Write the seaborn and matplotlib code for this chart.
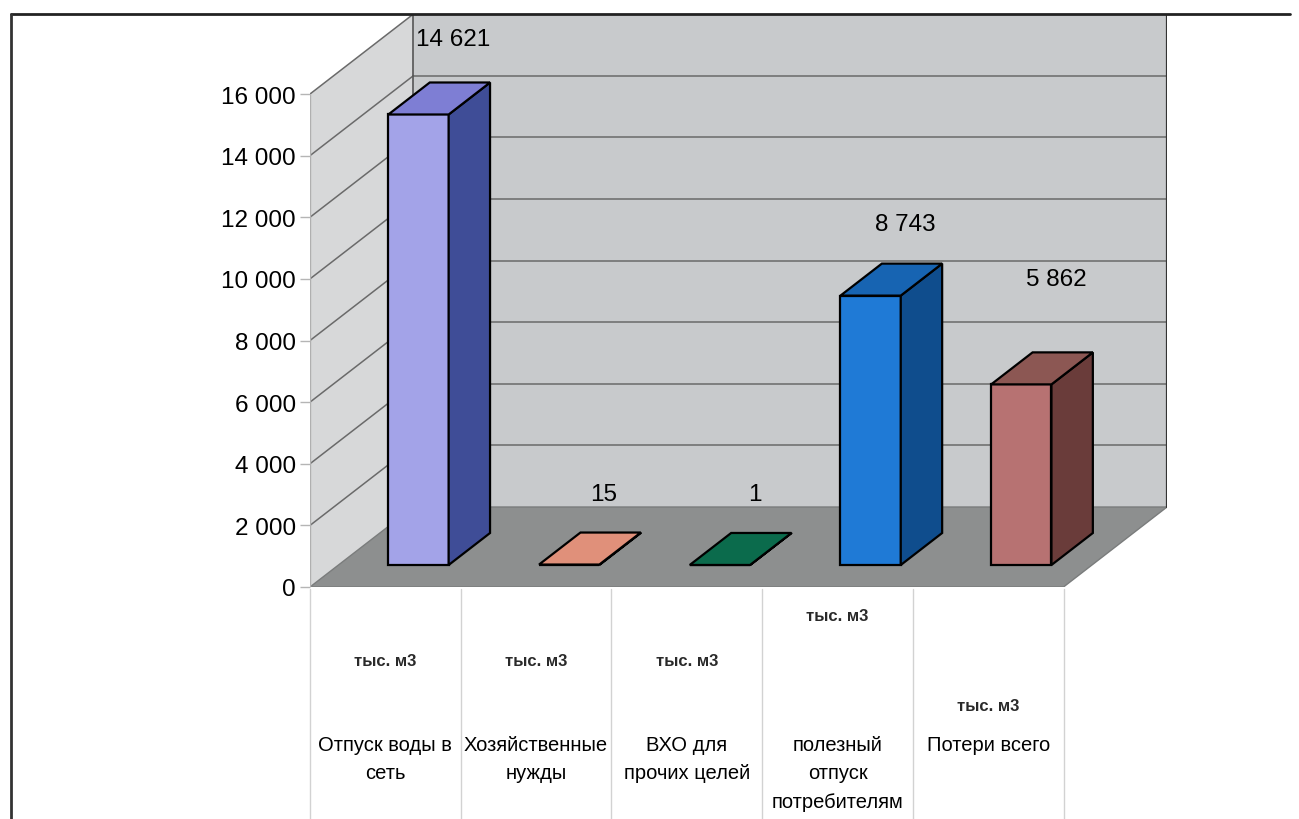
import matplotlib
matplotlib.use("Agg")
import matplotlib.pyplot as plt
import seaborn as sns
import pandas as pd
from matplotlib.patches import Polygon
from matplotlib.lines import Line2D
from matplotlib.transforms import blended_transform_factory

# Data
categories = ["Отпуск воды в\nсеть", "Хозяйственные\nнужды", "ВХО для\nпрочих целей",
              "полезный\nотпуск\nпотребителям", "Потери всего"]
units = ["тыс. м3", "тыс. м3", "тыс. м3", "тыс. м3", "тыс. м3"]
values = [14621, 15, 1, 8743, 5862]
y_ticks = [0, 2000, 4000, 6000, 8000, 10000, 12000, 14000, 16000]

# Colours of the three visible faces of each bar
front_colors = ["#a3a3e8", "#e0907a", "#0b6b4c", "#1f7ad6", "#b77272"]
top_colors = ["#7e7ed4", "#e0907a", "#0b6b4c", "#1764b2", "#8c5753"]
side_colors = ["#3f4d97", "#c07060", "#07553c", "#0f4d8d", "#6a3c3a"]

# Layout (pixels of the 1299x820 canvas)
W, H = 1299, 820
label_lift = [3160, 3000, 3020, 3040, 4130]
unit_rows_px = [662, 662, 662, 617, 707]
names_top_px = 736

sns.set_theme(style="white")
plt.rcParams["font.family"] = ["Liberation Sans", "DejaVu Sans"]
plt.rcParams["text.color"] = "black"
plt.rcParams["ytick.labelcolor"] = "black"

fig = plt.figure(figsize=(W / 100, H / 100), dpi=100)
fig.patch.set_facecolor("white")
ax = fig.add_axes([310 / W, 1 - 588 / H, (1167 - 310) / W, (588 - 15) / H])
ax.set_facecolor("none")

# depth of the 3D box, in category units and value units
depth_x = 103 / 150
depth_y = 16000 * 80 / 493
y_top = 16000 + depth_y

# front faces via seaborn
df = pd.DataFrame({"cat": categories, "value": values})
sns.barplot(data=df, x="cat", y="value", hue="cat", palette=front_colors,
            saturation=1, width=0.4, legend=False, ax=ax,
            edgecolor="black", linewidth=1.6)
bars = sorted(ax.patches, key=lambda p: p.get_x())

# walls and floor
x0, x1 = -0.5, len(categories) - 0.5
wall_kw = dict(closed=True, zorder=0.5, linewidth=0)
ax.add_patch(Polygon([(x0 + depth_x, depth_y), (x1 + depth_x, depth_y),
                      (x1 + depth_x, y_top), (x0 + depth_x, y_top)],
                     facecolor="#c8cacc", **wall_kw))
ax.add_patch(Polygon([(x0, 0), (x0, 16000), (x0 + depth_x, y_top), (x0 + depth_x, depth_y)],
                     facecolor="#d7d8d9", **wall_kw))
ax.add_patch(Polygon([(x0, 0), (x1, 0), (x1 + depth_x, depth_y), (x0 + depth_x, depth_y)],
                     facecolor="#8d8f8f", edgecolor="#7a7c7c", linewidth=1, closed=True, zorder=0.6))

for v in y_ticks[1:]:
    ax.plot([x0 + depth_x, x1 + depth_x], [v + depth_y, v + depth_y], color="#6a6a6a", lw=1.1, zorder=1)
    ax.plot([x0, x0 + depth_x], [v, v + depth_y], color="#6a6a6a", lw=1.1, zorder=1)
ax.plot([x0 + depth_x, x0 + depth_x], [depth_y, y_top], color="#555555", lw=1.2, zorder=1)
ax.plot([x1 + depth_x, x1 + depth_x], [depth_y, y_top], color="#333333", lw=1.6, zorder=1)
ax.plot([x0, x0], [0, 16000], color="#b0b0b0", lw=1, zorder=1)

# 3D sides and tops of the bars
shift_x = 0.22
shift_y = 16000 * 22 / 493
cap_dx = 0.4 * depth_x
cap_dy = 0.4 * depth_y
for bar, top_c, side_c in zip(bars, top_colors, side_colors):
    bar.set_x(bar.get_x() + shift_x)
    bar.set_y(shift_y)
    bar.set_zorder(3)
    bx, bw = bar.get_x(), bar.get_width()
    yb, yt = shift_y, shift_y + bar.get_height()
    ax.add_patch(Polygon([(bx + bw, yb), (bx + bw, yt), (bx + bw + cap_dx, yt + cap_dy),
                          (bx + bw + cap_dx, yb + cap_dy)], closed=True,
                         facecolor=side_c, edgecolor="black", linewidth=1.6, zorder=3))
    ax.add_patch(Polygon([(bx, yt), (bx + bw, yt), (bx + bw + cap_dx, yt + cap_dy),
                          (bx + cap_dx, yt + cap_dy)], closed=True,
                         facecolor=top_c, edgecolor="black", linewidth=1.6, zorder=3.1))

# value labels
for i, (v, lift) in enumerate(zip(values, label_lift)):
    ax.text(i + 0.45, v + lift, f"{v:,}".replace(",", " "), ha="center", va="center",
            fontsize=17.5, color="black", zorder=5)

ax.set_xlim(x0, x1 + depth_x)
ax.set_ylim(0, y_top)
ax.set_yticks(y_ticks)
ax.set_yticklabels([f"{v:,}".replace(",", " ") for v in y_ticks])
ax.tick_params(axis="y", length=7, width=1, color="#b5b5b5", pad=3, labelsize=17.5,
               labelcolor="black", left=True)
ax.set_xticks([])
ax.set_xlabel("")
ax.set_ylabel("")
for s in ax.spines.values():
    s.set_visible(False)

# category table under the chart
trans = blended_transform_factory(ax.transData, fig.transFigure)
for k in range(len(categories) + 1):
    ax.add_line(Line2D([x0 + k, x0 + k], [1 - 590 / H, 0], transform=trans,
                       color="#d2d2d2", lw=1, clip_on=False))
for i, (name, unit) in enumerate(zip(categories, units)):
    ax.text(i, 1 - unit_rows_px[i] / H, unit, transform=trans, ha="center", va="center",
            fontsize=12, fontweight="bold", color="#2a2a2a")
    ax.text(i, 1 - names_top_px / H, name, transform=trans, ha="center", va="top",
            fontsize=14.5, color="black", linespacing=1.62)

# outer frame lines of the scanned page
fig.add_artist(Line2D([11 / W, 1290 / W], [1 - 15 / H, 1 - 15 / H], color="#222222", lw=2))
fig.add_artist(Line2D([11 / W, 11 / W], [1 - 15 / H, 0], color="#333333", lw=2))

fig.savefig("out.png", dpi=100)
